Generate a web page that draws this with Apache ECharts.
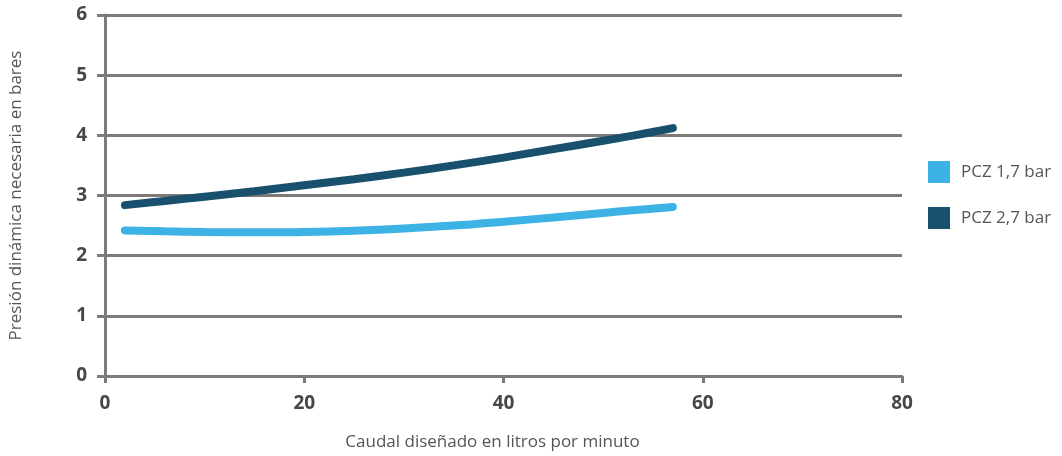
<!DOCTYPE html>
<html>
<head>
<meta charset="utf-8">
<script src="https://cdn.jsdelivr.net/npm/echarts@6/dist/echarts.min.js"></script>
<style>
html,body{margin:0;padding:0;background:#fff;}
#chart{width:1062px;height:456px;}
</style>
</head>
<body>
<div id="chart"></div>
<script>
const caudal = [2, 6, 10, 15, 20, 25, 30, 35, 40, 45, 50, 53, 57];
const pcz17 = [2.42, 2.405, 2.395, 2.39, 2.395, 2.415, 2.45, 2.50, 2.565, 2.635, 2.71, 2.755, 2.81];
const pcz27 = [2.84, 2.91, 2.98, 3.07, 3.17, 3.27, 3.38, 3.50, 3.63, 3.77, 3.91, 3.995, 4.12];
const seriesNames = ['PCZ 1,7 bar', 'PCZ 2,7 bar'];
const xAxisName = 'Caudal diseñado en litros por minuto';
const yAxisName = 'Presión dinámica necesaria en bares';

const gridColor = '#7f7a7a';
const chart = echarts.init(document.getElementById('chart'));
const toPairs = (xs, ys) => xs.map((x, i) => [x, ys[i]]);
chart.setOption({
  animation: false,
  textStyle: { fontFamily: 'Open Sans' },
  grid: { left: 105, right: 160, top: 15, bottom: 79 },
  legend: {
    orient: 'vertical',
    left: 923, top: 156,
    itemWidth: 22, itemHeight: 22, itemGap: 24,
    icon: 'rect',
    textStyle: { fontSize: 17, color: '#555', fontFamily: 'Open Sans', padding: [0, 0, 0, 6] },
    data: seriesNames
  },
  xAxis: {
    type: 'value', min: 0, max: 80, interval: 20,
    name: xAxisName, nameLocation: 'middle', nameGap: 58,
    nameTextStyle: { fontSize: 17, color: '#555', padding: [0, 22, 0, 0] },
    axisLine: { show: true, lineStyle: { color: gridColor, width: 3 } },
    axisTick: { show: true, length: 7, lineStyle: { color: gridColor, width: 3 } },
    axisLabel: { fontSize: 19, fontWeight: 'bold', color: '#4a4644', margin: 18 },
    splitLine: { show: false }
  },
  yAxis: {
    type: 'value', min: 0, max: 6, interval: 1,
    name: yAxisName, nameLocation: 'middle', nameGap: 80,
    nameTextStyle: { fontSize: 17, color: '#555' },
    axisLine: { show: true, lineStyle: { color: gridColor, width: 3 } },
    axisTick: { show: true, length: 8, lineStyle: { color: gridColor, width: 3 } },
    axisLabel: { fontSize: 19, fontWeight: 'bold', color: '#4a4644', margin: 18 },
    splitLine: { show: true, lineStyle: { color: gridColor, width: 3 } }
  },
  series: [
    {
      name: seriesNames[0], type: 'line', smooth: 0.4, showSymbol: false,
      data: toPairs(caudal, pcz17),
      itemStyle: { color: '#3db3e5' },
      lineStyle: { color: '#3db3e5', width: 8, cap: 'round' }
    },
    {
      name: seriesNames[1], type: 'line', smooth: 0.4, showSymbol: false,
      data: toPairs(caudal, pcz27),
      itemStyle: { color: '#18506e' },
      lineStyle: { color: '#18506e', width: 8, cap: 'round' }
    }
  ]
});
</script>
</body>
</html>
